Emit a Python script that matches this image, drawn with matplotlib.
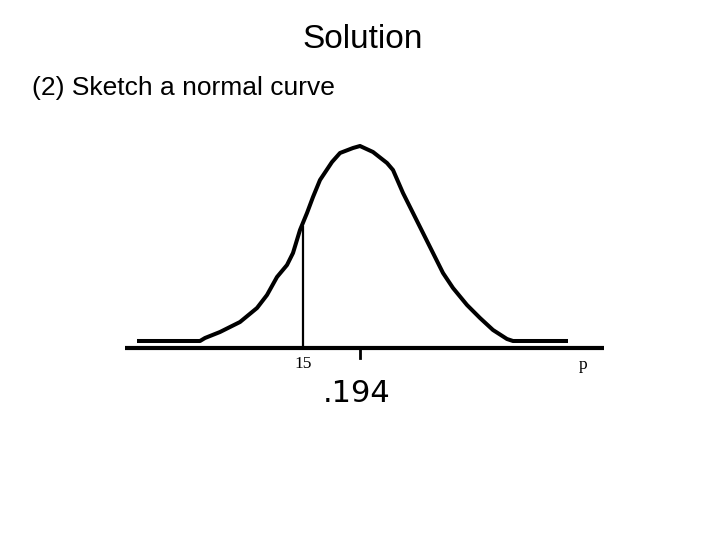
import matplotlib.pyplot as plt

# hand-sketched normal curve (pixel-like units, y grows downward)
curve_x = [137, 200, 205, 220, 240, 257, 267, 277, 287, 293, 300, 307, 313, 320,
           332, 340, 353, 360, 373, 387, 393, 403, 413, 423, 433, 443, 453, 467,
           480, 493, 507, 513, 568]
curve_y = [341, 341, 338, 332, 322, 308, 295, 277, 265, 253, 230, 213, 197, 180,
           162, 153, 148, 146, 152, 163, 170, 193, 213, 233, 253, 273, 288, 305,
           318, 330, 339, 341, 341]

axis_x = [125, 604]
axis_y = 348
cut_x, cut_top = 303, 227
mean_x = 360

fig = plt.figure(figsize=(7.2, 5.4), dpi=100)
fig.patch.set_facecolor("white")
ax = fig.add_axes([0, 0, 1, 1])
ax.set_xlim(0, 720)
ax.set_ylim(540, 0)
ax.axis("off")

ax.plot(curve_x, curve_y, color="black", lw=2.9, solid_capstyle="butt")
ax.plot(axis_x, [axis_y, axis_y], color="black", lw=3.0, solid_capstyle="butt")
ax.plot([cut_x, cut_x], [axis_y, cut_top], color="black", lw=1.6)
ax.plot([mean_x, mean_x], [axis_y, axis_y + 10], color="black", lw=2.0)

ax.text(303, 364, "15", ha="center", va="center", fontsize=12.5, family="Liberation Serif")
ax.text(583, 365, "p", ha="center", va="center", fontsize=12.5, family="Liberation Serif")
ax.text(357, 394, ".194", ha="center", va="center", fontsize=22, family="DejaVu Sans")

fig.text(363 / 720, 1 - 40 / 540, "Solution", ha="center", va="center",
         fontsize=24, family="Liberation Sans")
fig.text(32 / 720, 1 - 88 / 540, "(2) Sketch a normal curve", ha="left", va="center",
         fontsize=19, family="Liberation Sans")

plt.savefig("out.png", dpi=100, facecolor=fig.get_facecolor())
plt.close()
